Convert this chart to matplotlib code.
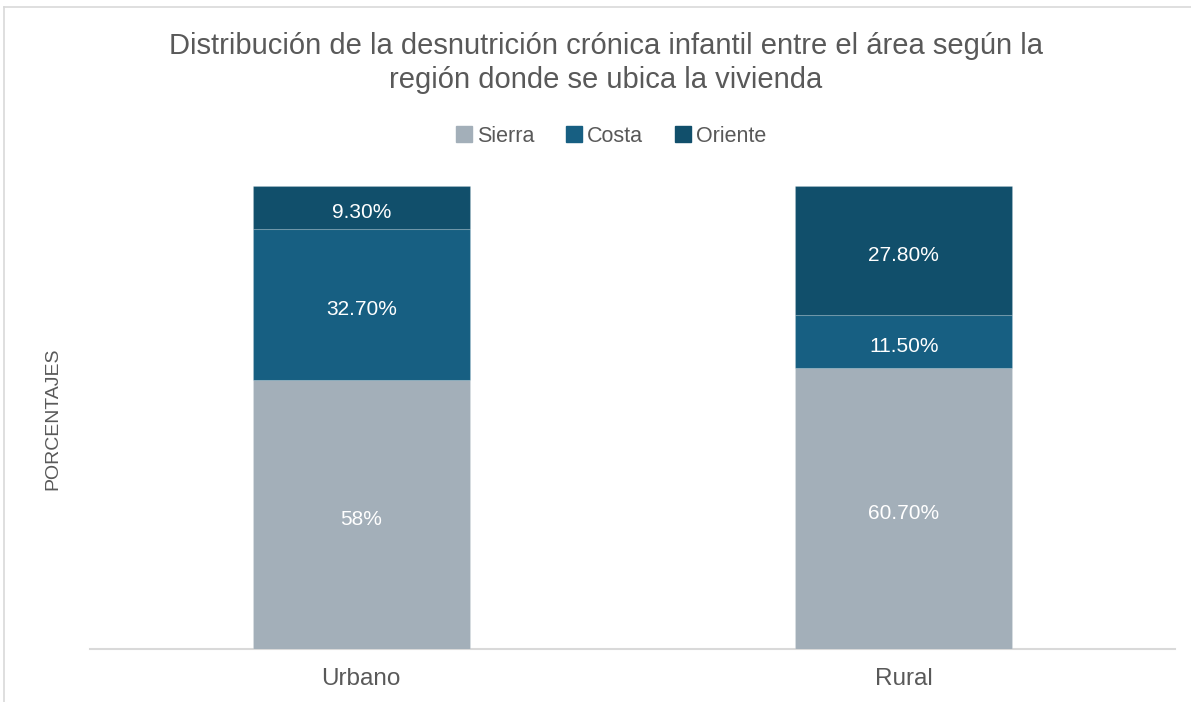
import matplotlib
matplotlib.use("Agg")
import matplotlib.pyplot as plt
from matplotlib.lines import Line2D
import numpy as np

plt.rcParams['font.family'] = ['Liberation Sans', 'DejaVu Sans']

categories = ["Urbano", "Rural"]
series_names = ["Sierra", "Costa", "Oriente"]
sierra = [58.0, 60.7]
costa = [32.7, 11.5]
oriente = [9.3, 27.8]
labels_sierra = ["58%", "60.70%"]
labels_costa = ["32.70%", "11.50%"]
labels_oriente = ["9.30%", "27.80%"]

colors = ["#A3AFB9", "#175F82", "#114F6B"]
text_gray = "#595959"

fig = plt.figure(figsize=(11.91, 7.02), dpi=100)
ax = fig.add_axes([90/1191, 1-649/702, (1175-90)/1191, (649-186)/702])

x = np.arange(len(categories))
bottom = np.zeros(len(categories))
all_vals = [sierra, costa, oriente]
all_labels = [labels_sierra, labels_costa, labels_oriente]
for vals, labs, col, name in zip(all_vals, all_labels, colors, series_names):
    vals = np.array(vals)
    ax.bar(x, vals, width=0.4, bottom=bottom, color=col, label=name,
           edgecolor=(1, 1, 1, 0.15), linewidth=0.8)
    for xi, v, b, lab in zip(x, vals, bottom, labs):
        ax.annotate(lab, (xi, b + v/2), xytext=(0, -2), textcoords='offset points',
                    ha='center', va='center_baseline', color='white', fontsize=15)
    bottom = bottom + vals

ax.set_xlim(-0.5, 1.5)
ax.set_ylim(0, 100)
for s in ['top', 'right', 'left']:
    ax.spines[s].set_visible(False)
ax.spines['bottom'].set_color('#D9D9D9')
ax.spines['bottom'].set_linewidth(1.5)
ax.spines['bottom'].set_zorder(0.5)
ax.set_yticks([])
ax.set_xticks(x)
ax.set_xticklabels(categories, fontsize=17.5, color=text_gray)
ax.tick_params(axis='x', length=0, pad=14)

fig.text(53/1191, 1-419/702, "PORCENTAJES", rotation=90, ha='center', va='center',
         fontsize=14, color=text_gray)

fig.text(606/1191, 1-46/702, "Distribución de la desnutrición crónica infantil entre el área según la",
         ha='center', va='center', fontsize=21, color=text_gray)
fig.text(606/1191, 1-80/702, "región donde se ubica la vivienda",
         ha='center', va='center', fontsize=21, color=text_gray)

handles = [Line2D([0], [0], marker='s', color='none', markerfacecolor=c, markeredgecolor=c,
                  markersize=11) for c in colors]
fig.legend(handles, series_names, loc='center', bbox_to_anchor=(611/1191, 1-136/702),
           ncol=3, frameon=False, fontsize=15.5, handlelength=0.75, handletextpad=0.2,
           columnspacing=1.5, labelcolor=text_gray)

# outer chart border (top and left visible)
fig.add_artist(Line2D([4/1191, 1], [1-7/702, 1-7/702], color='#D9D9D9', lw=1.2, transform=fig.transFigure))
fig.add_artist(Line2D([4/1191, 4/1191], [0, 1-7/702], color='#D9D9D9', lw=1.2, transform=fig.transFigure))

fig.savefig("out.png", dpi=100, facecolor='white')
